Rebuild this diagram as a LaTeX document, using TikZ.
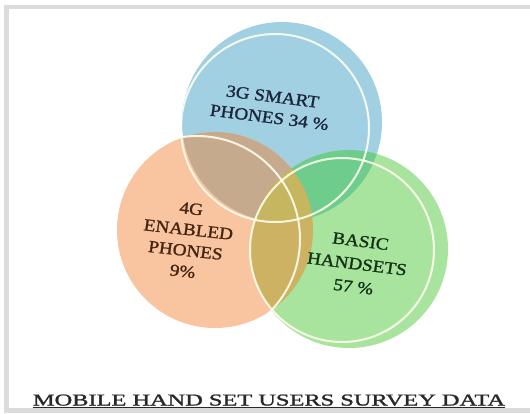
\documentclass[tikz,border=0pt]{standalone}
\usepackage{fontspec}
\setmainfont{Liberation Serif}
\newfontfamily\labfont[FakeBold=1.3]{Liberation Serif}
\usetikzlibrary{calc}
\definecolor{framegray}{RGB}{220,220,220}
\definecolor{bluefill}{RGB}{160,208,226}
\definecolor{orangefill}{RGB}{248,197,160}
\definecolor{greenfill}{RGB}{168,228,158}
\definecolor{bofill}{RGB}{198,170,142}
\definecolor{bgfill}{RGB}{110,204,140}
\definecolor{ogfill}{RGB}{204,178,98}
\definecolor{bogfill}{RGB}{198,182,96}
\definecolor{bluetext}{RGB}{28,38,58}
\definecolor{orangetext}{RGB}{70,38,18}
\definecolor{greentext}{RGB}{20,50,20}
\definecolor{titletext}{RGB}{40,40,40}
\definecolor{ringcol}{RGB}{255,253,238}
\begin{document}
\begin{tikzpicture}[x=1pt,y=-1pt,
  ring/.style={draw=ringcol, line width=2pt, draw opacity=0.9},
  lab/.style={align=center, inner sep=0pt, font=\labfont\fontsize{17}{21}\selectfont, xscale=1.13}]
\useasboundingbox (0,0) rectangle (530,413);
\fill[white] (0,0) rectangle (530,413);
% frame
\fill[framegray] (4,4.5) rectangle (530,8.5);
\fill[framegray] (4,4.5) rectangle (9,413);
\fill[framegray] (4,408) rectangle (530,413);
% centres
\coordinate (Bf) at (282,122);
\coordinate (Of) at (215,230);
\coordinate (Gf) at (349,249);
\coordinate (Bo) at (275,128);
\coordinate (Oo) at (197,239);
\coordinate (Go) at (342,250);
% plain fills
\fill[bluefill] (Bf) circle[radius=100];
\fill[orangefill] (Of) circle[radius=98];
\fill[greenfill] (Gf) circle[radius=99];
% pairwise overlaps
\begin{scope}
  \clip (Bf) circle[radius=100];
  \fill[bofill] (Of) circle[radius=98];
\end{scope}
\begin{scope}
  \clip (Bf) circle[radius=100];
  \fill[bgfill] (Gf) circle[radius=99];
\end{scope}
\begin{scope}
  \clip (Of) circle[radius=98];
  \fill[ogfill] (Gf) circle[radius=99];
\end{scope}
\begin{scope}
  \clip (Bf) circle[radius=100];
  \clip (Of) circle[radius=98];
  \fill[bogfill] (Gf) circle[radius=99];
\end{scope}
% white rings, only over the coloured discs
\begin{scope}
  \clip (Bf) circle[radius=100] (Of) circle[radius=98] (Gf) circle[radius=99];
  \draw[ring] (Bo) circle[radius=94];
  \draw[ring] (Oo) circle[radius=103];
  \draw[ring] (Go) circle[radius=92];
\end{scope}
% labels
\node[lab, text=bluetext, rotate=-8] (lblue) at (271,107) {3G SMART\\PHONES 34 \%};
\node[lab, text=orangetext, rotate=-7] (lorange) at (187,240) {4G\\ENABLED\\PHONES\\9\%};
\node[lab, text=greentext, rotate=-8, font=\labfont\fontsize{17}{23}\selectfont] (lgreen) at (357,264) {BASIC\\HANDSETS\\57 \%};
% title
\node[anchor=base, inner sep=0pt, text=titletext, font=\labfont] (title) at (269,405.5)
  {\resizebox{472pt}{11pt}{MOBILE HAND SET USERS SURVEY DATA}};
\draw[titletext, line width=0.9pt] ($(title.base west)+(0,1.8)$) -- ($(title.base east)+(0,1.8)$);
\end{tikzpicture}
\end{document}
